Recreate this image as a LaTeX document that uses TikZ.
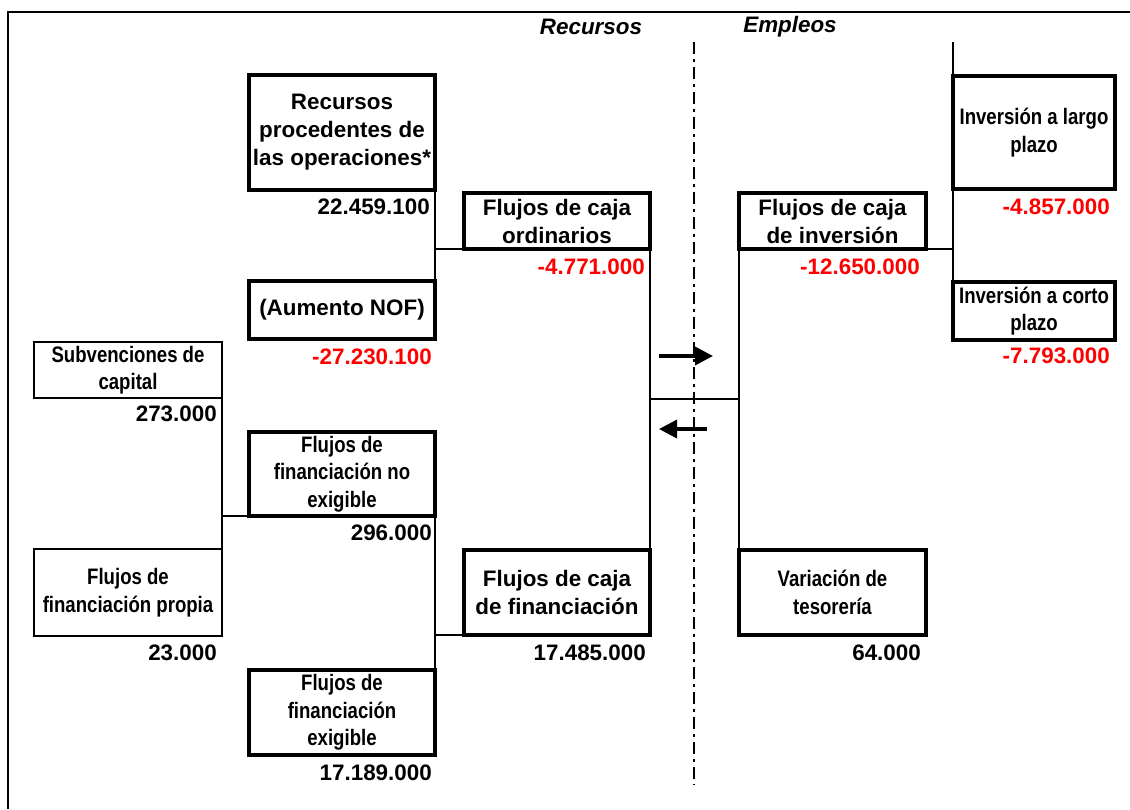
\documentclass[tikz,border=0pt]{standalone}
\usepackage{fontspec}
\setmainfont{Liberation Sans}
\newfontfamily\narrowfont[FakeStretch=0.83]{Liberation Sans}
\usetikzlibrary{arrows.meta}
\begin{document}
\begin{tikzpicture}[x=1pt,y=-1pt,
  boxbase/.style={draw, inner sep=0pt, outer sep=0pt, align=center},
  thickbox/.style={boxbase, line width=4pt, font=\fontsize{22.4}{28}\selectfont\bfseries},
  thinbox/.style={boxbase, line width=2pt},
  narrowtext/.style={font=\fontsize{22.4}{27.5}\selectfont\narrowfont\bfseries},
  num/.style={anchor=east, inner sep=0pt, font=\fontsize{22.4}{27}\selectfont\bfseries},
  neg/.style={num, text=red},
  hdr/.style={inner sep=0pt, font=\fontsize{22.4}{27}\selectfont\bfseries\itshape},
  conn/.style={line width=2pt},
  frameline/.style={line width=2.5pt},
  axisline/.style={line width=2pt, dash pattern=on 12pt off 5pt on 3pt off 5pt},
  flowarrow/.style={line width=3.5pt, -{Triangle[length=18pt,width=18pt]}}
]
\useasboundingbox (0,0) rectangle (1130,809);

% frame
\coordinate (fbl) at (8,809);
\coordinate (ftl) at (8,12);
\coordinate (ftr) at (1130,12);
\draw[frameline] (fbl) -- (ftl) -- (ftr);

% headers
\node[hdr] (rec) at (591,27) {Recursos};
\node[hdr] (emp) at (790,27) {Empleos};

% boxes
\node[thickbox, minimum width=186pt, minimum height=115pt] (A) at (342,132.5) {Recursos\\procedentes de\\las operaciones*};
\node[thickbox, minimum width=186pt, minimum height=58pt] (B) at (342,310) {(Aumento NOF)};
\node[thinbox, narrowtext, minimum width=188pt, minimum height=56pt] (C) at (128,370) {Subvenciones de\\capital};
\node[thickbox, narrowtext, minimum width=186pt, minimum height=84pt] (D) at (342,474) {Flujos de\\financiación no\\exigible};
\node[thinbox, narrowtext, minimum width=188pt, minimum height=87pt] (E) at (128,592.5) {Flujos de\\financiación propia};
\node[thickbox, narrowtext, minimum width=186pt, minimum height=85pt] (F) at (342,712.5) {Flujos de\\financiación\\exigible};
\node[thickbox, minimum width=186pt, minimum height=56pt] (G) at (557,221) {Flujos de caja\\ordinarios};
\node[thickbox, minimum width=186pt, minimum height=85pt] (H) at (557,592.5) {Flujos de caja\\de financiación};
\node[thickbox, minimum width=187pt, minimum height=56pt] (I) at (832.5,221) {Flujos de caja\\de inversión};
\node[thickbox, narrowtext, minimum width=187pt, minimum height=85pt] (J) at (832.5,592.5) {Variación de\\tesorería};
\node[thickbox, narrowtext, minimum width=162pt, minimum height=113pt] (K) at (1034,132.5) {Inversión a largo\\plazo};
\node[thickbox, narrowtext, minimum width=162pt, minimum height=58pt] (L) at (1034,311) {Inversión a corto\\plazo};

% numbers
\node[num] (nA) at (430,207) {22.459.100};
\node[neg] (nB) at (432,357) {-27.230.100};
\node[num] (nC) at (217,414) {273.000};
\node[num] (nD) at (432,533) {296.000};
\node[num] (nE) at (217,653) {23.000};
\node[num] (nF) at (432,773) {17.189.000};
\node[neg] (nG) at (645,267) {-4.771.000};
\node[num] (nH) at (646,653) {17.485.000};
\node[neg] (nI) at (920,267) {-12.650.000};
\node[num] (nJ) at (921,653) {64.000};
\node[neg] (nK) at (1110,207) {-4.857.000};
\node[neg] (nL) at (1110,356) {-7.793.000};

% connectors
\draw[conn] (A.south east) -- (B.north east);
\draw[conn] (G.south west) -- (G.south west -| A.south east);
\draw[conn] (C.south east) -- (E.north east);
\draw[conn] (D.south west) -- (D.south west -| C.south east);
\draw[conn] (D.south east) -- (F.north east);
\draw[conn] (H.south west) -- (H.south west -| D.south east);
\draw[conn] (G.south east) -- (H.north east);
\draw[conn] (I.south west) -- (J.north west);
\coordinate (mid) at (0,399);
\draw[conn] (G.east |- mid) -- (I.west |- mid);
\draw[conn] (I.south east) -- (I.south east -| K.west);
\coordinate (ktop) at (0,42);
\draw[conn] (K.west |- ktop) -- (L.north west);

% axis
\coordinate (dtop) at (694,42);
\coordinate (dbot) at (694,785);
\draw[axisline] (dtop) -- (dbot);

% arrows
\coordinate (r1) at (659,356);
\coordinate (r2) at (713,356);
\draw[flowarrow] (r1) -- (r2);
\coordinate (l1) at (707,429);
\coordinate (l2) at (659,429);
\draw[flowarrow] (l1) -- (l2);
\end{tikzpicture}
\end{document}
